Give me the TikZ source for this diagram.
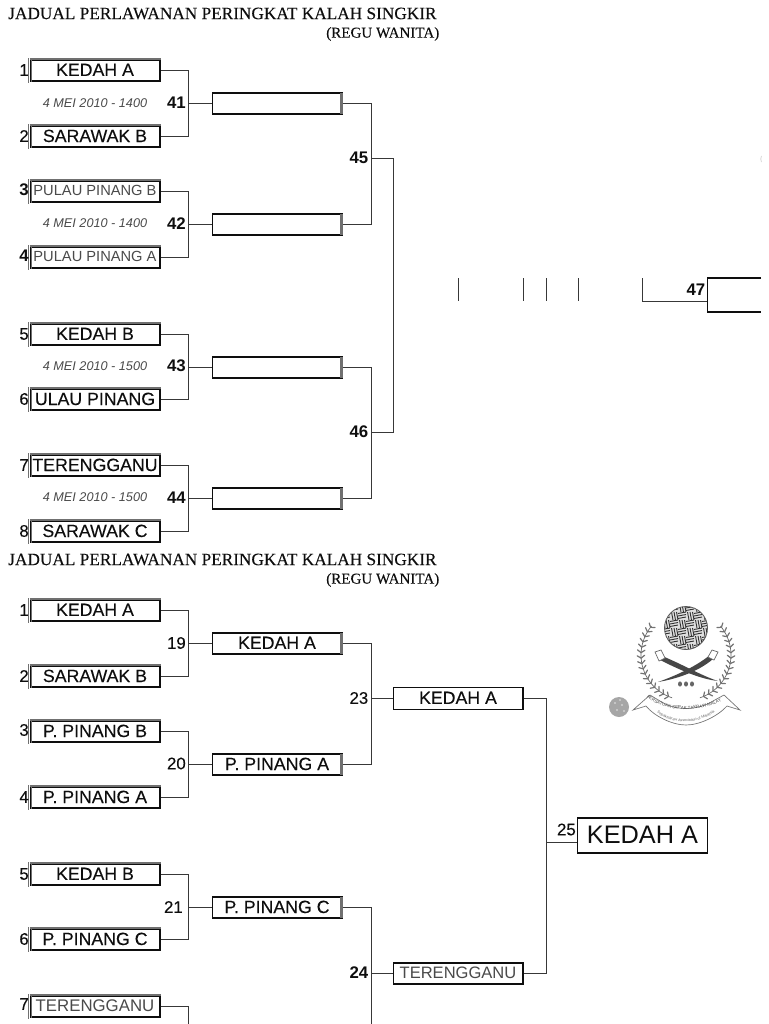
\documentclass[tikz,border=0pt]{standalone}
\usepackage{fontspec}
\setmainfont{Liberation Sans}
\newfontfamily\medfont[FakeBold=0.2]{Liberation Sans}
\newfontfamily\titlefont[FakeBold=0.15]{Liberation Serif}
\usetikzlibrary{decorations.text,calc}
\definecolor{ink}{HTML}{0E0E0E}
\definecolor{soft}{HTML}{4A4A4A}
\definecolor{barg}{HTML}{707070}
\newcommand{\fs}[1]{\fontsize{#1}{#1}\selectfont}
\tikzset{
 x=0.75pt,y=-0.75pt,
 team/.style={draw=ink,fill=white,line width=1.25pt,minimum width=97pt,minimum height=16.2pt,inner sep=0pt,text=ink,text depth=1pt,font=\medfont\fs{13.3}},
 thin team/.style={team,text=soft,font=\fs{11}},
 wire/.style={draw=black!78,line width=0.75pt},
 num/.style={anchor=east,inner sep=0pt,font=\medfont\fs{12.6},text=ink},
 bnum/.style={num,font=\bfseries\fs{12.6}},
 date/.style={inner sep=0pt,font=\itshape\fs{9.5},text=soft},
 title/.style={anchor=west,inner sep=0pt,font=\titlefont\fs{12.95},text=ink},
 sub/.style={anchor=west,inner sep=0pt,font=\titlefont\fs{11.3},text=ink},
 leftbar/.style={draw=barg,line width=0.75pt},
 rightbar/.style={draw=barg,line width=2pt},
}
% left-column box: grey doubled left edge, softer top edge
\newcommand{\lbox}[4][team]{\node[#1] (#2) at (95,#3) {#4};
 \draw[draw=barg,line width=1pt] (#2.north west) -- (#2.north east);
 \draw[draw=white,line width=1.25pt] (#2.north west) -- (#2.south west);
 \draw[leftbar] ($(#2.north west)+(-0.6,-0.8)$) -- ($(#2.south west)+(-0.6,0.8)$);
 \draw[leftbar] ($(#2.north west)+(1.6,0)$) -- ($(#2.south west)+(1.6,0)$);}
% second-column box with the thick grey right edge
\newcommand{\rbox}[5][team]{\node[#1] (#2) at (#3,#4) {#5};
 \draw[rightbar] ($(#2.north east)+(-1,1)$) -- ($(#2.south east)+(-1,-1)$);}
\begin{document}
\begin{tikzpicture}
\useasboundingbox (0,0) rectangle (768,1024);
\fill[white] (0,0) rectangle (768,1024);

% ---------- upper bracket
\node[title] (t1) at (8,13.5) {JADUAL PERLAWANAN PERINGKAT KALAH SINGKIR};
\node[sub] (s1) at (326,34) {(REGU WANITA)};

\lbox{a1}{70.5}{KEDAH A}
\lbox{a2}{136.5}{SARAWAK B}
\lbox[thin team]{a3}{191.5}{PULAU PINANG B}
\lbox[thin team]{a4}{257.5}{PULAU PINANG A}
\lbox{a5}{334.5}{KEDAH B}
\lbox{a6}{399.5}{ULAU PINANG}
\lbox{a7}{465.5}{TERENGGANU}
\lbox{a8}{531.5}{SARAWAK C}

\rbox{b1}{277}{103.5}{}
\rbox{b2}{277}{224.5}{}
\rbox{b3}{277}{367.5}{}
\rbox{b4}{277}{498.5}{}

\foreach \n/\y/\s in {1/70/num,2/136/num,3/190/bnum,4/256/bnum,5/334/num,6/399/num,7/465/num,8/531/num}
  \node[\s] (an\n) at (29,\y) {\n};

\foreach \y/\d in {103/1400,223/1400,366/1500,497/1500}
  \node[date] (d\d\y) at (95,\y) {4 MEI 2010 - \d};

\coordinate (j1) at (188.5,103.5);
\coordinate (j2) at (188.5,224.5);
\coordinate (j3) at (188.5,367.5);
\coordinate (j4) at (188.5,498.5);
\draw[wire] (a1.east) -| (j1) |- (a2.east);
\draw[wire] (a3.east) -| (j2) |- (a4.east);
\draw[wire] (a5.east) -| (j3) |- (a6.east);
\draw[wire] (a7.east) -| (j4) |- (a8.east);
\draw[wire] (j1) -- (b1.west);
\draw[wire] (j2) -- (b2.west);
\draw[wire] (j3) -- (b3.west);
\draw[wire] (j4) -- (b4.west);
\node[bnum] (n41) at (186,102.5) {41};
\node[bnum] (n42) at (186,223.5) {42};
\node[bnum] (n43) at (186,366) {43};
\node[bnum] (n44) at (186,497.5) {44};

\coordinate (k1) at (371.5,158.5);
\coordinate (k2) at (371.5,432.5);
\draw[wire] (b1.east) -| (k1) |- (b2.east);
\draw[wire] (b3.east) -| (k2) |- (b4.east);
\coordinate (m) at (393.5,290);
\draw[wire] (k1) -| (m) |- (k2);
\node[bnum] (n45) at (368.5,157.5) {45};
\node[bnum] (n46) at (368.5,432) {46};

\foreach \x in {458.5,523.5,546.5,578.5}
  \draw[wire] (\x,278) -- (\x,301);
\coordinate (q) at (642.5,278);
\coordinate (r) at (707,301.5);
\draw[wire] (q) |- (r);
\draw[draw=ink,line width=1.25pt] (761,278) -- (707.5,278) -- (707.5,312) -- (761,312);
\node[bnum] (n47) at (705.5,290) {47};
\draw[black!15,line width=0.6pt] (761.5,162) arc[start angle=150,end angle=210,radius=6];

% ---------- lower bracket
\node[title] (t2) at (8,559.5) {JADUAL PERLAWANAN PERINGKAT KALAH SINGKIR};
\node[sub] (s2) at (326,580) {(REGU WANITA)};

\lbox{c1}{610.5}{KEDAH A}
\lbox{c2}{676.5}{SARAWAK B}
\lbox{c3}{731.5}{P. PINANG B}
\lbox{c4}{797.5}{P. PINANG A}
\lbox{c5}{874.5}{KEDAH B}
\lbox{c6}{939.5}{P. PINANG C}
\lbox[team,text=soft,font=\fs{12.6}]{c7}{1006.5}{TERENGGANU}

\foreach \n/\y in {1/610,2/676,3/730,4/797,5/874,6/939,7/1004}
  \node[num] (cn\n) at (29,\y) {\n};

\rbox{e1}{277}{643.5}{KEDAH A}
\rbox{e2}{277}{764.5}{P. PINANG A}
\rbox{e3}{277}{907.5}{P. PINANG C}

\coordinate (l1) at (188.5,643.5);
\coordinate (l2) at (188.5,764.5);
\coordinate (l3) at (188.5,907.5);
\coordinate (l4) at (188.5,1024);
\draw[wire] (c1.east) -| (l1) |- (c2.east);
\draw[wire] (c3.east) -| (l2) |- (c4.east);
\draw[wire] (c5.east) -| (l3) |- (c6.east);
\draw[wire] (c7.east) -| (l4);
\draw[wire] (l1) -- (e1.west);
\draw[wire] (l2) -- (e2.west);
\draw[wire] (l3) -- (e3.west);
\node[num] (n19) at (186,643) {19};
\node[num] (n20) at (186,763.5) {20};
\node[num] (n21) at (183,907) {21};

\node[team,minimum height=16.5pt] (f1) at (458,698.5) {KEDAH A};
\node[thin team,font=\fs{12.4},minimum height=16.2pt] (f2) at (458,973.5) {TERENGGANU};
\coordinate (p1) at (371.5,698.5);
\coordinate (p2) at (371.5,973.5);
\coordinate (p3) at (371.5,1024);
\draw[wire] (e1.east) -| (p1) |- (e2.east);
\draw[wire] (e3.east) -| (p3);
\draw[wire] (p1) -- (f1.west);
\draw[wire] (p2) -- (f2.west);
\node[num] (n23) at (368.5,698) {23};
\node[bnum] (n24) at (368.5,973) {24};

\node[team,font=\fs{19},minimum width=97.5pt,minimum height=26pt] (g) at (642.5,835.5) {KEDAH A};
\coordinate (h) at (546.5,842.5);
\draw[wire] (f1.east) -| (h) |- (f2.east);
\draw[wire] (h) -- (h-|g.west);
\node[num] (n25) at (576,829.5) {25};

% ---------- emblem
% small seal
\fill[black!35] (619,707) circle[radius=10];
\foreach \a/\b in {615/703,622/705,617/710,624/711,620/700}
  \fill[black!18] (\a,\b) circle[radius=1.1];
% woven ball
\begin{scope}
 \clip (686,628) circle[radius=21.5];
 \fill[black!12] (660,600) rectangle (712,656);
 \foreach \i in {0,...,5}{
  \foreach \j in {0,...,5}{
   \pgfmathtruncatemacro{\odd}{mod(\i+\j,2)}
   \begin{scope}[shift={(662+8*\i,604+8*\j)}]
    \ifnum\odd=0
     \foreach \k in {1.5,4,6.5} \draw[black!80,line width=0.7pt] (\k,0) -- ++(1.5,8);
    \else
     \foreach \k in {1.5,4,6.5} \draw[black!80,line width=0.7pt] (0,\k) -- ++(8,-1.5);
    \fi
   \end{scope}
  }
 }
\end{scope}
\draw[black!65,line width=0.6pt] (686,628) circle[radius=21.5];
% wreath
\foreach \s in {-1,1}{
 \draw[black!60,line width=0.5pt] plot[domain=-40:72,samples=24,smooth] ({686+\s*45*cos(\x)},{655+45*sin(\x)});
 \foreach \t in {-38,-31,...,70}{
  \coordinate (w) at ({686+\s*45*cos(\t)},{655+45*sin(\t)});
  \draw[black!55,line width=0.9pt,line cap=round] (w) -- ++({\s*(4.5*cos(\t-35))},{4.5*sin(\t-35)});
  \draw[black!55,line width=0.9pt,line cap=round] (w) -- ++({\s*(-4.5*cos(\t+35))},{-4.5*sin(\t+35)});
 }
}
% crossed blades
\fill[black!72] (662,656) .. controls (682,664) and (702,676) .. (718,681) .. controls (700,679) and (680,670) .. (660,660) -- cycle;
\fill[black!72] (710,655) .. controls (694,668) and (672,677) .. (658,682) .. controls (676,679) and (698,672) .. (713,659) -- cycle;
\draw[black!60,fill=white,line width=0.5pt] (655,652) -- (661,650) -- (665,658) -- (659,661) -- cycle;
\draw[black!60,fill=white,line width=0.5pt] (708,657) -- (712,650) -- (718,652) -- (714,660) -- cycle;
% three small marks
\foreach \x in {680,686,692}
  \fill[black!60] (\x,684) ellipse[x radius=2,y radius=2.6];
% ribbon
\draw[black!55,fill=white,line width=0.5pt] (633,710) -- (650,695) -- (660,701) .. controls (675,711) and (697,711) .. (713,701) -- (724,695) -- (740,710) -- (727,706) .. controls (718,716) and (700,725) .. (686,725) .. controls (672,725) and (654,716) .. (646,706) -- cycle;
\path[decorate,decoration={text along path,text align=center,text={|\fs{3.3}\color{black!72}|PERSATUAN SEPAK TAKRAW MALAYSIA}}] (652,701) .. controls (670,712) and (702,712) .. (722,701);
\path[decorate,decoration={text along path,text align=center,text={|\fs{2.8}\color{black!60}|Sepaktakraw Association of Malaysia}}] (656,712) .. controls (672,725) and (700,725) .. (716,711);
\end{tikzpicture}
\end{document}
